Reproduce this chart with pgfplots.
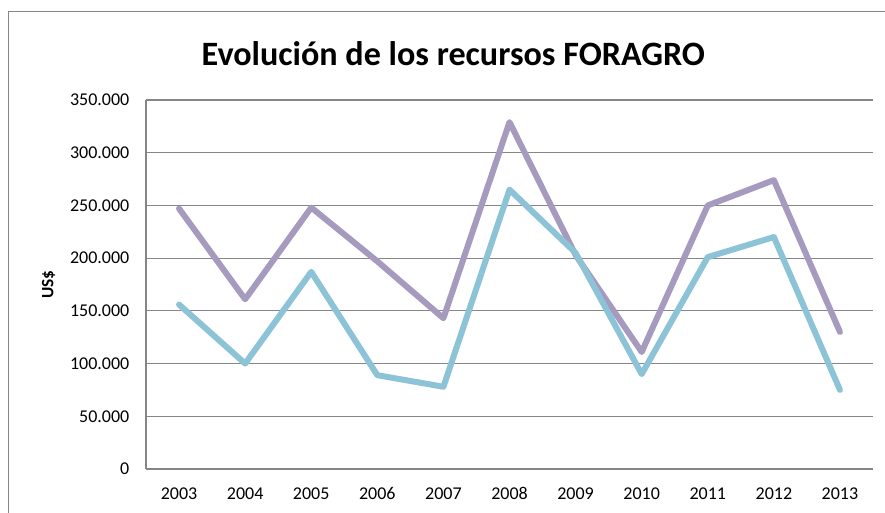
\documentclass[border=0pt]{standalone}
\usepackage{pgfplots}
\pgfplotsset{compat=1.18}
\usepackage{fontspec}
\setmainfont{Carlito}
\definecolor{serieA}{HTML}{A69ABE}
\definecolor{serieB}{HTML}{8DC3D6}
\definecolor{rejilla}{HTML}{868686}

\pgfplotstableread{
x  anio  total   fondos
0  2003  247000  156000
1  2004  161000  100000
2  2005  248000  187000
3  2006  197000   89000
4  2007  143000   78000
5  2008  329000  265000
6  2009  203000  205000
7  2010  111000   90000
8  2011  250000  201000
9  2012  274000  220000
10 2013  130000   75000
}\datos

\begin{document}
\begin{tikzpicture}
  \path[use as bounding box] (0,0) rectangle (663.75pt,384pt);
  % marco del grafico
  \draw[rejilla, line width=0.75pt] (6pt,-5pt) -- (6pt,375pt) -- (670pt,375pt);
  \node[anchor=base, font=\bfseries\fontsize{25.6}{30}\selectfont] at (340pt,335.25pt)
    {Evolución de los recursos FORAGRO};
  \begin{axis}[
      at={(109.5pt,32.25pt)}, anchor=south west,
      scale only axis, width=545.25pt, height=276.75pt,
      xmin=-0.5, xmax=10.5, ymin=0, ymax=350000,
      xtick={0,...,10},
      xticklabels={2003,2004,2005,2006,2007,2008,2009,2010,2011,2012,2013},
      ytick={0,50000,...,350000},
      yticklabels={0,50.000,100.000,150.000,200.000,250.000,300.000,350.000},
      scaled y ticks=false,
      major tick length=0pt,
      axis line style={rejilla, line width=0.9pt},
      ymajorgrids, grid style={rejilla, line width=0.9pt},
      axis x line*=bottom, axis y line*=left,
      tick label style={font=\fontsize{13.5}{16}\selectfont},
      /pgf/number format/assume math mode=true,
      xticklabel style={yshift=-9.5pt, text height=9.5pt, text depth=0pt},
      yticklabel style={xshift=-9pt},
      ylabel={US\$},
      ylabel style={font=\bfseries\fontsize{13}{16}\selectfont, at={(-73pt,0.5)}, anchor=center, rotate=0},
      clip=false,
    ]
    \addplot[serieA, line width=4.5pt, line join=round, line cap=round] table[x=x, y=total] {\datos};
    \addplot[serieB, line width=4.5pt, line join=round, line cap=round] table[x=x, y=fondos] {\datos};
  \end{axis}
\end{tikzpicture}
\end{document}
